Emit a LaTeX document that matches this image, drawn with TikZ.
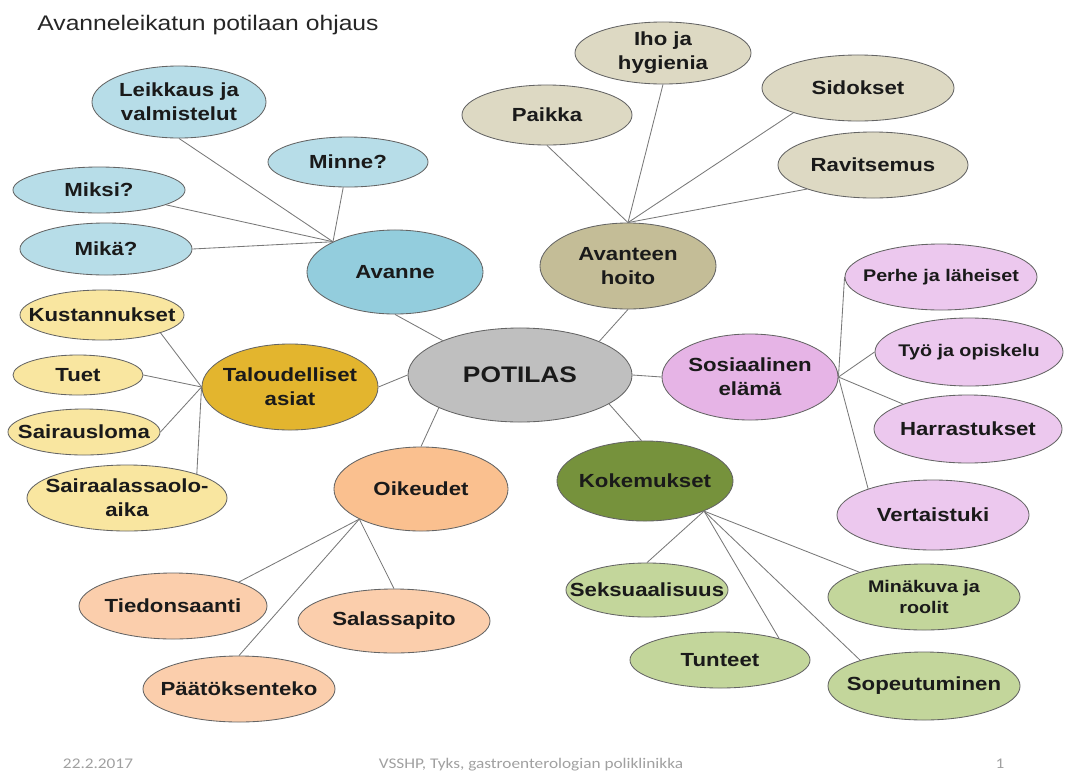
\documentclass[tikz,border=0pt]{standalone}
\usepackage{fontspec}
\setmainfont{Liberation Sans}[FakeStretch=1.17]
\newfontfamily\footfont{Carlito}[FakeStretch=1.17]
\usepackage{tikz}
\usetikzlibrary{shapes.geometric}
\definecolor{ink}{RGB}{26,26,26}
\definecolor{title_gray}{RGB}{38,38,38}
\definecolor{foot_gray}{RGB}{160,160,160}
\definecolor{edge_gray}{RGB}{100,100,100}
\definecolor{line_gray}{RGB}{120,120,120}
\definecolor{gray_hub}{RGB}{191,191,191}
\definecolor{blue_hub}{RGB}{147,205,221}
\definecolor{blue_light}{RGB}{183,221,232}
\definecolor{tan_hub}{RGB}{196,189,151}
\definecolor{tan_light}{RGB}{221,217,195}
\definecolor{gold_hub}{RGB}{227,181,46}
\definecolor{gold_light}{RGB}{249,230,160}
\definecolor{peach_hub}{RGB}{250,192,143}
\definecolor{peach_light}{RGB}{251,206,172}
\definecolor{pink_hub}{RGB}{230,180,230}
\definecolor{pink_light}{RGB}{236,200,238}
\definecolor{green_hub}{RGB}{118,146,60}
\definecolor{green_light}{RGB}{195,214,155}

\begin{document}
\begin{tikzpicture}[x=0.025cm, y=-0.025cm,
    every node/.style={ellipse, draw=edge_gray, line width=0.6pt, inner xsep=-40pt, inner ysep=-10pt, align=center, text=ink, font=\fontsize{13.5}{17}\selectfont\bfseries},
    rad/.style 2 args={minimum width=#1*0.05cm, minimum height=#2*0.05cm},
    smalltext/.style={font=\fontsize{12}{15}\selectfont\bfseries},
    slidetext/.style={rectangle, draw=none, inner sep=0pt},
    spoke/.style={line_gray, line width=0.6pt}]
      \useasboundingbox (0,0) rectangle (1080,771);
      \node[slidetext, anchor=base west, text=title_gray, font=\fontsize{15}{18}\selectfont] (title) at (37,30) {Avanneleikatun potilaan ohjaus};

      \node[rad={112}{47}, fill=gray_hub, font=\fontsize{16}{19}\selectfont\bfseries] (pot) at (520,375) {POTILAS};

      \node[rad={88}{42}, fill=blue_hub] (av) at (395,272) {Avanne};
      \node[rad={87}{36}, fill=blue_light] (leik) at (179,102) {Leikkaus ja\\valmistelut};
      \node[rad={80}{25}, fill=blue_light] (minne) at (348,162) {Minne?};
      \node[rad={86}{23}, fill=blue_light] (miksi) at (99,190) {Miksi?};
      \node[rad={86}{26}, fill=blue_light] (mika) at (106,249) {Mikä?};

      \node[rad={88}{43}, fill=tan_hub] (ah) at (628,266) {Avanteen\\hoito};
      \node[rad={85}{30}, fill=tan_light] (paikka) at (547,115) {Paikka};
      \node[rad={88}{31}, fill=tan_light] (iho) at (663,53) {Iho ja\\hygienia};
      \node[rad={96}{33}, fill=tan_light] (sid) at (858,88) {Sidokset};
      \node[rad={95}{33}, fill=tan_light] (rav) at (873,165) {Ravitsemus};

      \node[rad={88}{43}, fill=gold_hub] (tal) at (290,387) {Taloudelliset\\asiat};
      \node[rad={82}{25}, fill=gold_light] (kus) at (102,315) {Kustannukset};
      \node[rad={65}{20}, fill=gold_light] (tuet) at (78,375) {Tuet};
      \node[rad={76}{23}, fill=gold_light] (sai) at (84,432) {Sairausloma};
      \node[rad={100}{33}, fill=gold_light] (saa) at (127,498) {Sairaalassaolo-\\aika};

      \node[rad={87}{42}, fill=peach_hub] (oik) at (421,489) {Oikeudet};
      \node[rad={94}{33}, fill=peach_light] (tie) at (173,606) {Tiedonsaanti};
      \node[rad={96}{32}, fill=peach_light] (sal) at (394,621) {Salassapito};
      \node[rad={96}{33}, fill=peach_light] (paa) at (239,689) {Päätöksenteko};

      \node[rad={88}{43}, fill=pink_hub] (sos) at (750,377) {Sosiaalinen\\elämä};
      \node[rad={96}{33}, fill=pink_light, smalltext] (perhe) at (941,277) {Perhe ja läheiset};
      \node[rad={94}{34}, fill=pink_light, smalltext] (tyo) at (969,352) {Työ ja opiskelu};
      \node[rad={94}{34}, fill=pink_light] (harr) at (968,429) {Harrastukset};
      \node[rad={96}{35}, fill=pink_light] (vert) at (933,515) {Vertaistuki};

      \node[rad={88}{40}, fill=green_hub] (kok) at (645,481) {Kokemukset};
      \node[rad={81}{27}, fill=green_light] (seks) at (647,590) {Seksuaalisuus};
      \node[rad={90}{28}, fill=green_light] (tun) at (720,660) {Tunteet};
      \node[rad={96}{33}, fill=green_light, smalltext] (mina) at (924,597) {Minäkuva ja\\roolit};
      \node[rad={96}{34}, fill=green_light] (sop) at (924,686) {Sopeutuminen};

      \draw[spoke] (av.south) -- (pot.156);
      \draw[spoke] (tal.east) -- (pot.west);
      \draw[spoke] (pot.202) -- (oik.north);
      \draw[spoke] (pot.23) -- (ah.south);
      \draw[spoke] (pot.east) -- (sos.west);
      \draw[spoke] (pot.-18) -- (kok.95);

      \draw[spoke] (av.154) -- (leik.south);
      \draw[spoke] (av.154) -- (minne);
      \draw[spoke] (av.154) -- (miksi);
      \draw[spoke] (av.154) -- (mika.east);

      \draw[spoke] (ah.north) -- (paikka.south);
      \draw[spoke] (ah.north) -- (iho.south);
      \draw[spoke] (ah.north) -- (sid.201);
      \draw[spoke] (ah.north) -- (rav.200);

      \draw[spoke] (tal.west) -- (kus.-17);
      \draw[spoke] (tal.west) -- (tuet.east);
      \draw[spoke] (tal.west) -- (sai.east);
      \draw[spoke] (tal.west) -- (saa.19);

      \draw[spoke] (oik.206) -- (tie.20);
      \draw[spoke] (oik.206) -- (paa.north);
      \draw[spoke] (oik.206) -- (sal.north);

      \draw[spoke] (sos.east) -- (perhe.west);
      \draw[spoke] (sos.east) -- (tyo.west);
      \draw[spoke] (sos.east) -- (harr.159);
      \draw[spoke] (sos.east) -- (vert.158);

      \draw[spoke] (kok.-27) -- (seks.north);
      \draw[spoke] (kok.-27) -- (tun.20);
      \draw[spoke] (kok.-27) -- (mina.159);
      \draw[spoke] (kok.-27) -- (sop.158);

      \node[slidetext, anchor=base, text=foot_gray, font=\footfont\fontsize{10.5}{12}\selectfont] (date) at (98,768) {22.2.2017};
      \node[slidetext, anchor=base, text=foot_gray, font=\footfont\fontsize{10.5}{12}\selectfont] (unit) at (531,768) {VSSHP, Tyks, gastroenterologian poliklinikka};
      \node[slidetext, anchor=base, text=foot_gray, font=\footfont\fontsize{10.5}{12}\selectfont] (page) at (1000,768) {1};
    \end{tikzpicture}
\end{document}
